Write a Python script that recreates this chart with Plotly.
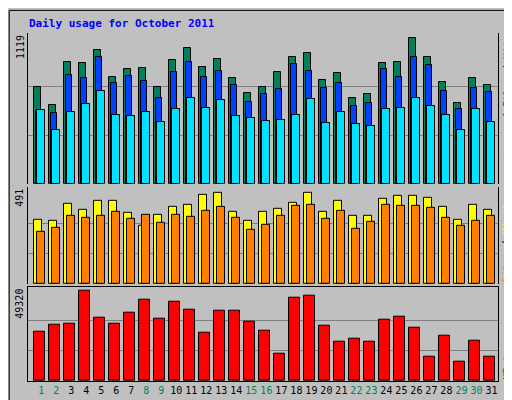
import plotly.graph_objects as go

days = list(range(1, 32))
hits = [745, 608, 936, 928, 1027, 821, 882, 890, 745, 951, 1043, 898, 959, 814, 699, 745,
        860, 974, 1004, 799, 852, 661, 692, 928, 936, 1119, 974, 783, 623, 814, 760]
files = [557, 539, 837, 814, 974, 776, 829, 791, 661, 860, 936, 821, 867, 760, 631, 692,
         730, 921, 867, 737, 776, 593, 623, 882, 821, 974, 913, 715, 577, 737, 707]
pages = [562, 409, 554, 615, 715, 531, 516, 547, 470, 577, 661, 585, 646, 516, 501, 478,
         486, 524, 654, 463, 554, 455, 440, 577, 585, 661, 600, 524, 409, 577, 470]
visits = [347, 342, 432, 400, 448, 448, 384, 315, 374, 416, 427, 480, 491, 390, 342, 390,
          406, 438, 491, 390, 448, 368, 368, 459, 475, 475, 464, 416, 347, 427, 400]
sites = [278, 304, 368, 358, 368, 390, 352, 374, 331, 374, 363, 395, 416, 358, 294, 320,
         368, 422, 427, 352, 395, 299, 336, 427, 422, 422, 411, 358, 315, 342, 368]
kbytes = [27099, 30893, 31435, 49320, 34687, 31435, 37397, 44442, 34145, 43358, 39022, 26557,
          38481, 38481, 32519, 27641, 15175, 45526, 46610, 30351, 21679, 23305, 21679, 33603,
          35229, 29267, 13008, 24931, 10298, 22221, 13008]
weekend = [1, 2, 8, 9, 15, 16, 22, 23, 29, 30]

BG = "#C0C0C0"
FONT = "DejaVu Sans Mono"

fig = go.Figure()

def bars(y, color, offset, width, yaxis):
    fig.add_trace(go.Bar(x=days, y=y, marker=dict(color=color, line=dict(color="black", width=1)),
                         offset=offset, width=width, yaxis=yaxis, xaxis="x", showlegend=False))

bars(hits, "#00805C", -0.5, 0.45, "y")
bars(files, "#0040FF", -0.38, 0.45, "y")
bars(pages, "#00E0FF", -0.27, 0.48, "y")
bars(visits, "#FFFF00", -0.5, 0.53, "y2")
bars(sites, "#FF8000", -0.27, 0.49, "y2")
bars(kbytes, "#FF0000", -0.47, 0.69, "y3")

ticktext = [f"<span style='color:{'#00805C' if d in weekend else 'black'}'>{d}</span>" for d in days]

def yax(dom, mx, top):
    return dict(domain=dom, range=[0, mx], tickvals=[top / 3, 2 * top / 3], showticklabels=False,
                ticks="", gridcolor="#808080", gridwidth=1, zeroline=False, showline=True,
                linecolor="black", linewidth=1, mirror=True, anchor="x")

fig.update_layout(
    width=512, height=400, barmode="overlay",
    margin=dict(l=20, r=22, t=25, b=24),
    paper_bgcolor=BG, plot_bgcolor=BG,
    font=dict(family=FONT, size=10, color="black"),
    xaxis=dict(range=[0.11, 31.44], tickvals=days, ticktext=ticktext, showgrid=False,
               zeroline=False, ticks="", showline=True, linecolor="black", mirror=True,
               tickangle=0, tickfont=dict(size=10), anchor="y3"),
    yaxis=yax([0.567, 1], 1157, 1119),
    yaxis2=yax([0.279, 0.558], 523, 491),
    yaxis3=yax([0, 0.271], 51487, 49320),
    bargap=0,
)

def label(txt, x, y, anchor):
    fig.add_annotation(text=txt, xref="paper", yref="paper", x=x, y=y, textangle=-90,
                       showarrow=False, yanchor=anchor, xanchor="center",
                       font=dict(family=FONT, size=10))

label("1119", -0.017, 1.0, "top")
label("491", -0.017, 0.558, "top")
label("49320", -0.017, 0.271, "top")
label("<span style='color:#00E0FF'>Pages</span> / <span style='color:#0040FF'>Files</span>"
      " / <span style='color:#00805C'>Hits</span>", 1.02, 1.0, "top")
label("<span style='color:#FF8000'>Sites</span> / <span style='color:#FFFF00'>Visits</span>",
      1.02, 0.279, "bottom")
label("<span style='color:#FF0000'>KBytes</span>", 1.02, 0.0, "bottom")

fig.add_annotation(text="<b>Daily usage for October 2011</b>", xref="paper", yref="paper",
                   x=-0.003, y=1.028, xanchor="left", yanchor="middle", showarrow=False,
                   font=dict(family=FONT, size=11, color="#0000FF"))

# window frame
fig.add_shape(type="rect", xref="paper", yref="paper", x0=-0.04, x1=1.04, y0=-0.063, y1=1.065,
              line=dict(color="black", width=1), layer="below")

fig.write_html("out.html")
